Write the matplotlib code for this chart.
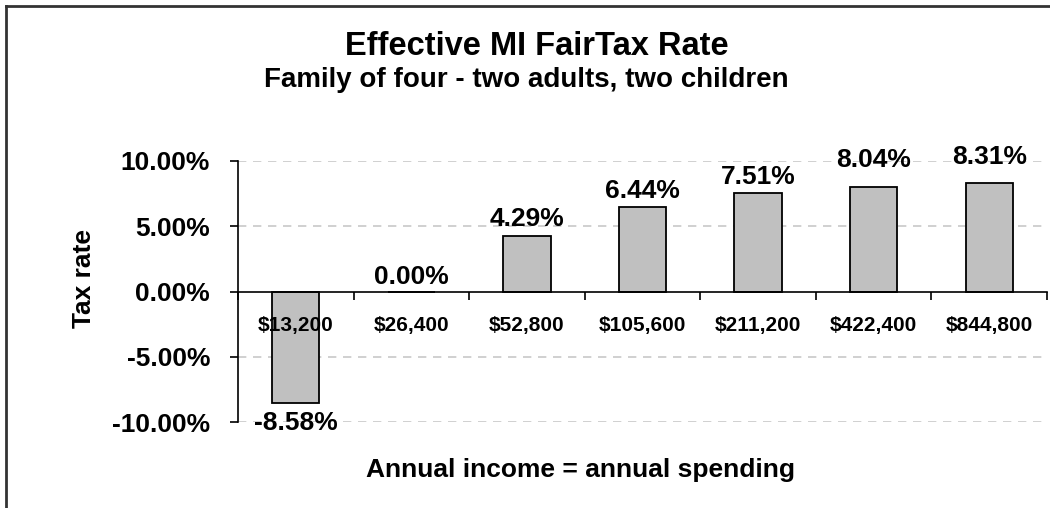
import matplotlib.pyplot as plt
import numpy as np
from matplotlib.lines import Line2D

plt.rcParams['font.family'] = ['Liberation Sans', 'DejaVu Sans']
plt.rcParams['font.weight'] = 'bold'

incomes = ['$13,200', '$26,400', '$52,800', '$105,600', '$211,200', '$422,400', '$844,800']
rates = [-8.58, 0.00, 4.29, 6.44, 7.51, 8.04, 8.31]
yticks = [-10, -5, 0, 5, 10]

# label offsets in pixels (above for positive, below for negative)
label_off = [-20, 15, 17, 16, 16, 27, 26]

fig = plt.figure(figsize=(10.5, 5.08), dpi=100)
ax = fig.add_axes([238 / 1050, 1 - 422 / 508, 809 / 1050, 261 / 508])

x = np.arange(len(incomes))
ax.bar(x, rates, width=0.41, color='#c0c0c0', edgecolor='black', linewidth=1.3, zorder=2)

for xi, r, off in zip(x, rates, label_off):
    ax.annotate(f'{r:.2f}%', (xi, r), xytext=(0, off * 0.72), textcoords='offset points',
                ha='center', va='center', fontsize=19, fontweight='bold', zorder=4)

ax.set_xlim(-0.5, len(incomes) - 0.5)
ax.set_ylim(-10, 10)

# spines: left axis, category axis at zero
for s in ['top', 'right']:
    ax.spines[s].set_visible(False)
ax.spines['bottom'].set_position(('data', 0))
ax.spines['bottom'].set_zorder(5)
ax.spines['left'].set_linewidth(1.2)
ax.spines['bottom'].set_linewidth(1.2)

ax.set_yticks(yticks)
ax.set_yticklabels([f'{t:.2f}%' for t in yticks], fontsize=19, fontweight='bold')
ax.tick_params(axis='y', length=6, width=1.2, pad=14)

ax.set_xticks(np.arange(len(incomes) + 1) - 0.5)
ax.set_xticklabels([])
ax.tick_params(axis='x', which='major', length=6, width=1.2, direction='out')
ax.set_xticks(x, minor=True)
ax.set_xticklabels(incomes, minor=True, fontsize=15, fontweight='bold')
ax.tick_params(axis='x', which='minor', length=0, pad=18)
ax.xaxis.set_zorder(3)

for t in [-10, -5, 5, 10]:
    ax.axhline(t, color='#c8c8c8', linestyle=(0, (5, 4)), linewidth=1.2, zorder=1)

fig.text(84 / 1050, 1 - 279 / 508, 'Tax rate', rotation=90, ha='center', va='center',
         fontsize=19, fontweight='bold')
fig.text(580 / 1050, 1 - 470 / 508, 'Annual income = annual spending', ha='center', va='center',
         fontsize=19, fontweight='bold')
fig.text(537 / 1050, 1 - 46 / 508, 'Effective MI FairTax Rate', ha='center', va='center',
         fontsize=23.5, fontweight='bold')
fig.text(526 / 1050, 1 - 80 / 508, 'Family of four - two adults, two children', ha='center', va='center',
         fontsize=20, fontweight='bold')

# outer frame, left and top only
fig.add_artist(Line2D([6 / 1050, 6 / 1050], [0, 1 - 6 / 508], transform=fig.transFigure,
                      color='#333333', linewidth=2))
fig.add_artist(Line2D([6 / 1050, 1], [1 - 6 / 508, 1 - 6 / 508], transform=fig.transFigure,
                      color='#333333', linewidth=2))

fig.savefig('out.png', dpi=100)
